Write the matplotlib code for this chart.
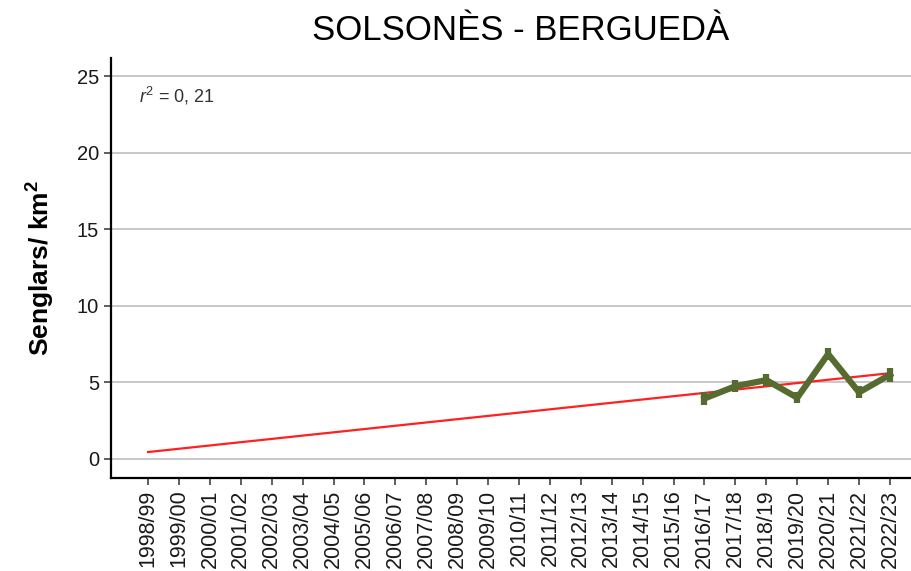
import matplotlib
matplotlib.use("Agg")
import matplotlib.pyplot as plt
import numpy as np

plt.rcParams["font.family"] = ["Liberation Sans", "DejaVu Sans"]
plt.rcParams["mathtext.fontset"] = "custom"
plt.rcParams["mathtext.rm"] = "Liberation Sans"
plt.rcParams["mathtext.it"] = "Liberation Sans:italic"
plt.rcParams["mathtext.bf"] = "Liberation Sans:bold"

seasons = ["1998/99", "1999/00", "2000/01", "2001/02", "2002/03", "2003/04",
           "2004/05", "2005/06", "2006/07", "2007/08", "2008/09", "2009/10",
           "2010/11", "2011/12", "2012/13", "2013/14", "2014/15", "2015/16",
           "2016/17", "2017/18", "2018/19", "2019/20", "2020/21", "2021/22",
           "2022/23"]

obs_seasons = ["2016/17", "2017/18", "2018/19", "2019/20", "2020/21", "2021/22", "2022/23"]
density = [3.95, 4.75, 5.15, 4.0, 6.85, 4.35, 5.5]
err = [0.45, 0.4, 0.4, 0.35, 0.4, 0.4, 0.45]

# linear trend endpoints (first and last season)
trend_seasons = ["1998/99", "2022/23"]
trend_values = [0.45, 5.6]
r2_text = "$r^2$ = 0, 21"

fig = plt.figure(figsize=(9.11, 5.71), dpi=100)
ax = fig.add_axes([0.1218, 0.163, 0.8782, 0.735])

xi = {s: i for i, s in enumerate(seasons)}
ox = [xi[s] for s in obs_seasons]
tx = [xi[s] for s in trend_seasons]

ax.plot(tx, trend_values, color="#ff2020", lw=1.6, zorder=3)
ax.errorbar(ox, density, yerr=err, color="#566b2f", lw=4.5, elinewidth=4.5,
            capsize=0, zorder=4)

ax.set_xlim(-1.2, 24.68)
ax.set_ylim(-1.24, 26.17)
ax.set_yticks([0, 5, 10, 15, 20, 25])
ax.set_xticks(range(len(seasons)))
ax.set_xticklabels(seasons, rotation=90, fontsize=15.5, color="#1a1a1a")
ax.tick_params(axis="y", labelsize=14.5, labelcolor="#1a1a1a")
ax.tick_params(axis="both", direction="out", length=5, width=1.1, color="#333333")

ax.grid(axis="y", color="#c8c8c8", lw=1.4)
ax.set_axisbelow(True)
for s in ["top", "right"]:
    ax.spines[s].set_visible(False)
for s in ["left", "bottom"]:
    ax.spines[s].set_linewidth(1.6)
    ax.spines[s].set_color("black")

ax.set_ylabel("Senglars/ km$^\\mathbf{2}$", fontsize=19, fontweight="bold", labelpad=14)
ax.text(0.035, 0.91, r2_text, transform=ax.transAxes, fontsize=13, color="#333333",
        va="center", ha="left")

fig.suptitle("SOLSONÈS - BERGUEDÀ", fontsize=25, x=0.571, y=0.975, va="top")

fig.savefig("out.png", dpi=100)
